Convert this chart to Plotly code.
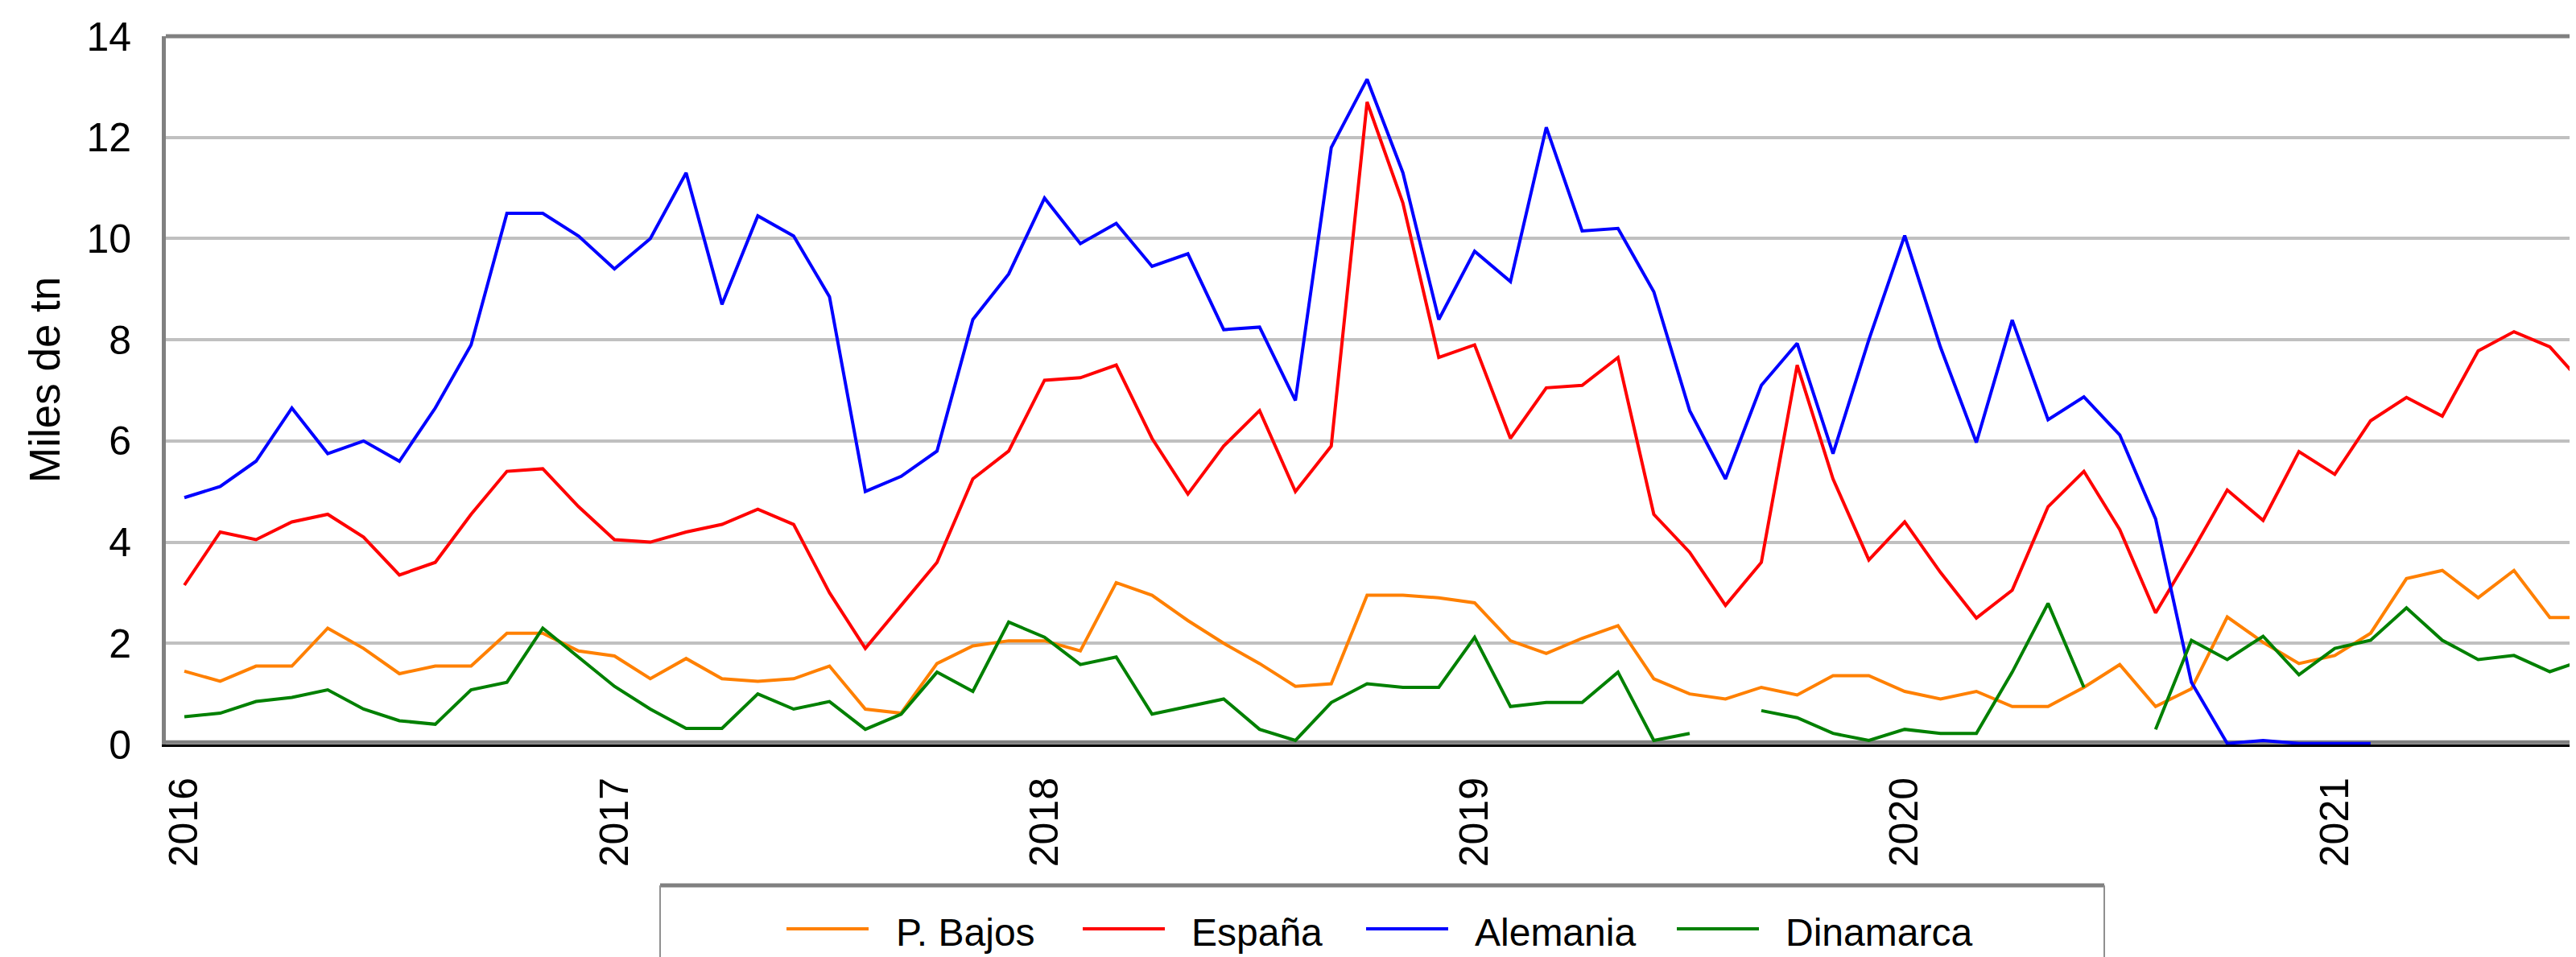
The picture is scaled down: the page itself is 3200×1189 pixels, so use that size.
import plotly.graph_objects as go

# ---------------- data ----------------
years = [2016, 2017, 2018, 2019, 2020, 2021]
month_labels = [f"{y}-{m:02d}" for y in years for m in range(1, 13)][:68]  # Jan 2016 .. Aug 2021
year_ticks = [f"{y}-01" for y in years]
year_text = [str(y) for y in years]

p_bajos = [1.45, 1.25, 1.55, 1.55, 2.3, 1.9, 1.4, 1.55, 1.55, 2.2, 2.2, 1.85,
           1.75, 1.3, 1.7, 1.3, 1.25, 1.3, 1.55, 0.7, 0.62, 1.6, 1.95, 2.05,
           2.05, 1.85, 3.2, 2.95, 2.45, 2.0, 1.6, 1.15, 1.2, 2.95, 2.95, 2.9,
           2.8, 2.05, 1.8, 2.1, 2.35, 1.3, 1.0, 0.9, 1.13, 0.98, 1.36, 1.36,
           1.05, 0.9, 1.05, 0.75, 0.75, 1.13, 1.58, 0.75, 1.1, 2.52, 2.02, 1.6,
           1.76, 2.2, 3.28, 3.44, 2.9, 3.44, 2.51, 2.51]

espana = [3.15, 4.2, 4.05, 4.4, 4.55, 4.1, 3.35, 3.6, 4.55, 5.4, 5.45, 4.7,
          4.05, 4.0, 4.2, 4.35, 4.65, 4.35, 3.0, 1.9, 2.75, 3.6, 5.25, 5.8,
          7.2, 7.25, 7.5, 6.05, 4.95, 5.9, 6.6, 5.0, 5.9, 12.7, 10.7, 7.65,
          7.9, 6.05, 7.05, 7.1, 7.65, 4.55, 3.8, 2.75, 3.6, 7.5, 5.25, 3.65,
          4.4, 3.4, 2.5, 3.05, 4.7, 5.4, 4.25, 2.6, 3.79, 5.03, 4.43, 5.79,
          5.34, 6.4, 6.86, 6.49, 7.78, 8.16, 7.86, 7.07]

alemania = [4.88, 5.1, 5.6, 6.65, 5.75, 6.0, 5.6, 6.65, 7.9, 10.5, 10.5, 10.05,
            9.4, 10.0, 11.3, 8.7, 10.45, 10.05, 8.85, 5.0, 5.3, 5.8, 8.4, 9.3,
            10.8, 9.9, 10.3, 9.45, 9.7, 8.2, 8.25, 6.8, 11.8, 13.15, 11.3, 8.4,
            9.75, 9.15, 12.2, 10.15, 10.2, 8.95, 6.6, 5.25, 7.1, 7.93, 5.75, 8.0,
            10.06, 7.85, 5.97, 8.39, 6.42, 6.87, 6.12, 4.46, 1.23, 0.02, 0.08, 0.02,
            0.02, 0.02, None, None, None, None, None, None]

dinamarca = [0.55, 0.62, 0.85, 0.93, 1.08, 0.7, 0.47, 0.4, 1.08, 1.23, 2.3, 1.72,
             1.15, 0.7, 0.32, 0.32, 1.0, 0.7, 0.85, 0.3, 0.6, 1.43, 1.05, 2.42,
             2.12, 1.58, 1.73, 0.6, 0.75, 0.9, 0.3, 0.08, 0.83, 1.2, 1.13, 1.13,
             2.12, 0.75, 0.83, 0.83, 1.43, 0.08, 0.22, None, 0.67, 0.53, 0.22, 0.08,
             0.3, 0.22, 0.22, 1.43, 2.79, 1.13, None, 0.3, 2.06, 1.68, 2.14, 1.38,
             1.9, 2.06, 2.7, 2.06, 1.68, 1.76, 1.44, 1.68]

series_names = ["P. Bajos", "España", "Alemania", "Dinamarca"]
series_values = [p_bajos, espana, alemania, dinamarca]
series_colors = ["#FF8000", "#FF0000", "#0000FF", "#008000"]

# ---------------- layout geometry (pixels) ----------------
W, H = 3200, 1189
ML, MR, MT, MB = 198, 0, 37, 272
PW, PH = W - ML - MR, H - MT - MB
FONT = "Liberation Sans, Arial, sans-serif"


def px_x(p):
    return (p - ML) / PW


def px_y(p):
    return (H - MB - p) / PH


fig = go.Figure()
for name, vals, col in zip(series_names, series_values, series_colors):
    fig.add_trace(go.Scatter(x=month_labels, y=vals, name=name, mode="lines",
                             line=dict(color=col, width=4), showlegend=False))

shapes = [
    # top frame line
    dict(type="line", xref="paper", yref="paper", x0=0, x1=1, y0=1, y1=1,
         line=dict(color="#808080", width=5), layer="above"),
    # gray band at zero
    dict(type="line", xref="paper", yref="paper", x0=0, x1=1, y0=0.003, y1=0.003,
         line=dict(color="#808080", width=5), layer="below"),
]

# legend box
lb_x0, lb_x1, lb_top = 812, 2606, 1092
shapes.append(dict(type="line", xref="paper", yref="paper",
                   x0=px_x(lb_x0), x1=px_x(lb_x1), y0=px_y(lb_top), y1=px_y(lb_top),
                   line=dict(color="#808080", width=5)))
for xx in (lb_x0, lb_x1):
    shapes.append(dict(type="line", xref="paper", yref="paper",
                       x0=px_x(xx), x1=px_x(xx), y0=px_y(lb_top), y1=px_y(H + 20),
                       line=dict(color="#909090", width=2)))

annotations = []
leg_y = 1150
swatch_x = [969, 1337, 1689, 2075]
text_x = [1103, 1470, 1822, 2208]
for name, col, sx, tx in zip(series_names, series_colors, swatch_x, text_x):
    shapes.append(dict(type="line", xref="paper", yref="paper",
                       x0=px_x(sx), x1=px_x(sx + 102), y0=px_y(leg_y - 4), y1=px_y(leg_y - 4),
                       line=dict(color=col, width=4)))
    annotations.append(dict(xref="paper", yref="paper", x=px_x(tx), y=px_y(leg_y),
                            text=name, showarrow=False, xanchor="left", yanchor="middle",
                            font=dict(family=FONT, size=48, color="black")))

# y-axis title
annotations.append(dict(xref="paper", yref="paper", x=px_x(47), y=px_y(464),
                        text="Miles de tn", textangle=-90, showarrow=False,
                        xanchor="center", yanchor="middle",
                        font=dict(family=FONT, size=53, color="black")))

fig.update_layout(
    width=W, height=H,
    margin=dict(l=ML, r=MR, t=MT, b=MB, pad=0),
    paper_bgcolor="white", plot_bgcolor="white",
    font=dict(family=FONT, size=50, color="black"),
    showlegend=False,
    shapes=shapes,
    annotations=annotations,
    xaxis=dict(type="category", range=[-0.517, 66.91],
               tickmode="array", tickvals=year_ticks, ticktext=year_text,
               tickangle=-90, tickfont=dict(family=FONT, size=50, color="black"),
               showgrid=False, zeroline=False, ticks="",
               showline=True, linecolor="#000000", linewidth=3,
               ticklabelstandoff=18),
    yaxis=dict(range=[0, 14], dtick=2, tick0=0,
               tickfont=dict(family=FONT, size=50, color="black"),
               showgrid=True, gridcolor="#C0C0C0", gridwidth=4,
               zeroline=False, ticks="",
               showline=True, linecolor="#808080", linewidth=5,
               ticklabelstandoff=28),
)

fig.write_html("out.html")
